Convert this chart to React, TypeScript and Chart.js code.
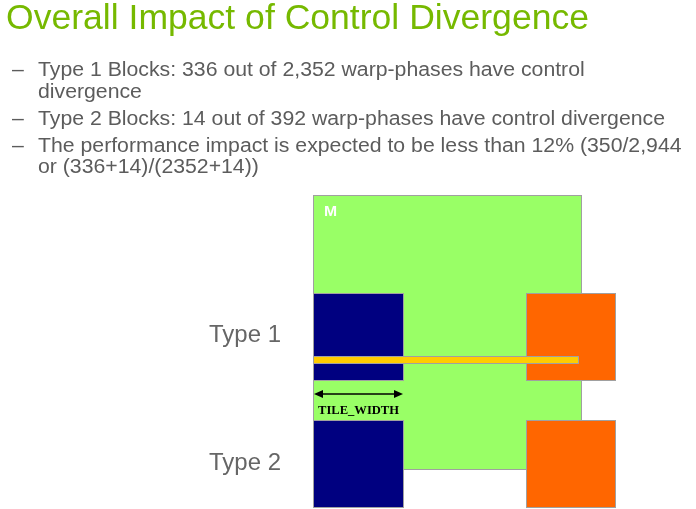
import React, { useEffect, useRef } from 'react';
import { Chart, registerables } from 'chart.js';

Chart.register(...registerables);

// ---- Data (slide content) ----
const titleText = 'Overall Impact of Control Divergence';

const bulletText = [
  'Type 1 Blocks: 336 out of 2,352 warp-phases have control',
  'divergence',
  'Type 2 Blocks: 14 out of 392 warp-phases have control divergence',
  'The performance impact is expected to be less than 12% (350/2,944',
  'or (336+14)/(2352+14))',
];
const bulletHasDash = [true, false, true, true, false];
const bulletBaseline = [76, 98, 125, 152, 173];

const blockNames = ['M', 'Type 1 N tile', 'Type 1 P tile', 'Type 2 N tile', 'Type 2 P tile', 'Row'];
const blockX0 = [313, 313, 526, 313, 526, 313];
const blockX1 = [582, 404, 616, 404, 616, 579];
const blockY0 = [195, 293, 293, 420, 420, 356];
const blockY1 = [470, 381, 381, 508, 508, 364];
const blockColors = ['#99ff66', '#000080', '#ff6600', '#000080', '#ff6600', '#ffcc00'];

const rowLabels = ['Type 1', 'Type 2'];
const rowLabelBaseline = [342, 470];

const tileArrowX = [313, 404];
const tileArrowY = 394;
const tileLabel = 'TILE_WIDTH';

const SANS = '"Liberation Sans", Arial, sans-serif';
const SERIF = '"Liberation Serif", "Times New Roman", serif';

function drawScaledText(
  ctx: CanvasRenderingContext2D,
  text: string,
  x: number,
  y: number,
  font: string,
  color: string,
  sx: number,
  align: CanvasTextAlign = 'left'
) {
  ctx.save();
  ctx.font = font;
  ctx.fillStyle = color;
  ctx.textBaseline = 'alphabetic';
  ctx.textAlign = align;
  ctx.translate(x, y);
  ctx.scale(sx, 1);
  ctx.fillText(text, 0, 0);
  ctx.restore();
}

function measure(ctx: CanvasRenderingContext2D, text: string, font: string) {
  ctx.save();
  ctx.font = font;
  const w = ctx.measureText(text).width;
  ctx.restore();
  return w;
}

const slidePlugin = {
  id: 'slideDrawing',
  afterDatasetsDraw(chart: any) {
    const ctx: CanvasRenderingContext2D = chart.ctx;
    const xs = chart.scales.x;
    const ys = chart.scales.y;
    const px = (v: number) => xs.getPixelForValue(v);
    const py = (v: number) => ys.getPixelForValue(v);

    // Title
    const tFont = `35px ${SANS}`;
    const tw = measure(ctx, titleText, tFont);
    drawScaledText(ctx, titleText, px(6), py(29), tFont, '#76b900', 583 / tw);

    // Bullets
    const bFont = `20px ${SANS}`;
    const bsx = 627 / measure(ctx, bulletText[2], bFont);
    bulletText.forEach((t, i) => {
      if (bulletHasDash[i]) {
        drawScaledText(ctx, '\u2013', px(12), py(bulletBaseline[i]), bFont, '#5c5c5c', bsx);
      }
      drawScaledText(ctx, t, px(38), py(bulletBaseline[i]), bFont, '#5c5c5c', bsx);
    });

    // Blocks
    blockNames.forEach((_, i) => {
      const x0 = px(blockX0[i]);
      const x1 = px(blockX1[i]);
      const y0 = py(blockY0[i]);
      const y1 = py(blockY1[i]);
      ctx.save();
      ctx.fillStyle = blockColors[i];
      ctx.fillRect(x0, y0, x1 - x0, y1 - y0);
      ctx.strokeStyle = '#a0a0a0';
      ctx.lineWidth = 1;
      ctx.strokeRect(x0 + 0.5, y0 + 0.5, x1 - x0 - 1, y1 - y0 - 1);
      ctx.restore();
    });

    // M label
    drawScaledText(ctx, 'M', px(324), py(216), `bold 15px ${SANS}`, '#ffffff', 1.05);

    // Row labels
    const rFont = `23px ${SANS}`;
    const rsx = 72 / measure(ctx, rowLabels[0], rFont);
    rowLabels.forEach((t, i) => {
      drawScaledText(ctx, t, px(209), py(rowLabelBaseline[i]), rFont, '#666666', rsx);
    });

    // Tile width arrow
    const ax0 = px(tileArrowX[0]);
    const ax1 = px(tileArrowX[1]);
    const ay = py(tileArrowY);
    ctx.save();
    ctx.strokeStyle = '#000000';
    ctx.fillStyle = '#000000';
    ctx.lineWidth = 1.5;
    ctx.beginPath();
    ctx.moveTo(ax0 + 4, ay);
    ctx.lineTo(ax1 - 4, ay);
    ctx.stroke();
    ctx.beginPath();
    ctx.moveTo(ax0 + 1, ay);
    ctx.lineTo(ax0 + 10, ay - 4);
    ctx.lineTo(ax0 + 10, ay + 4);
    ctx.closePath();
    ctx.fill();
    ctx.beginPath();
    ctx.moveTo(ax1 - 1, ay);
    ctx.lineTo(ax1 - 10, ay - 4);
    ctx.lineTo(ax1 - 10, ay + 4);
    ctx.closePath();
    ctx.fill();
    ctx.restore();

    const lFont = `bold 12px ${SERIF}`;
    const lw = measure(ctx, tileLabel, lFont);
    drawScaledText(ctx, tileLabel, px(318), py(414), lFont, '#000000', 81 / lw);
  },
};

export default function App() {
  const canvasRef = useRef<HTMLCanvasElement | null>(null);

  useEffect(() => {
    if (!canvasRef.current) return;
    const chart = new Chart(canvasRef.current, {
      type: 'scatter',
      data: {
        datasets: [
          {
            label: 'blocks',
            data: blockNames.map((_, i) => ({
              x: (blockX0[i] + blockX1[i]) / 2,
              y: (blockY0[i] + blockY1[i]) / 2,
            })),
            pointRadius: 0,
            pointHoverRadius: 0,
          },
        ],
      },
      options: {
        animation: false,
        responsive: false,
        devicePixelRatio: 1,
        layout: { padding: 0 },
        events: [],
        plugins: {
          legend: { display: false },
          tooltip: { enabled: false },
          title: { display: false },
        },
        scales: {
          x: { type: 'linear', min: 0, max: 696, display: false },
          y: { type: 'linear', min: 0, max: 509, reverse: true, display: false },
        },
      },
      plugins: [slidePlugin],
    });
    return () => chart.destroy();
  }, []);

  return (
    <div style={{ position: 'fixed', left: 0, top: 0, width: 696, height: 509, background: '#ffffff' }}>
      <canvas ref={canvasRef} width={696} height={509} style={{ width: 696, height: 509, display: 'block' }} />
    </div>
  );
}
